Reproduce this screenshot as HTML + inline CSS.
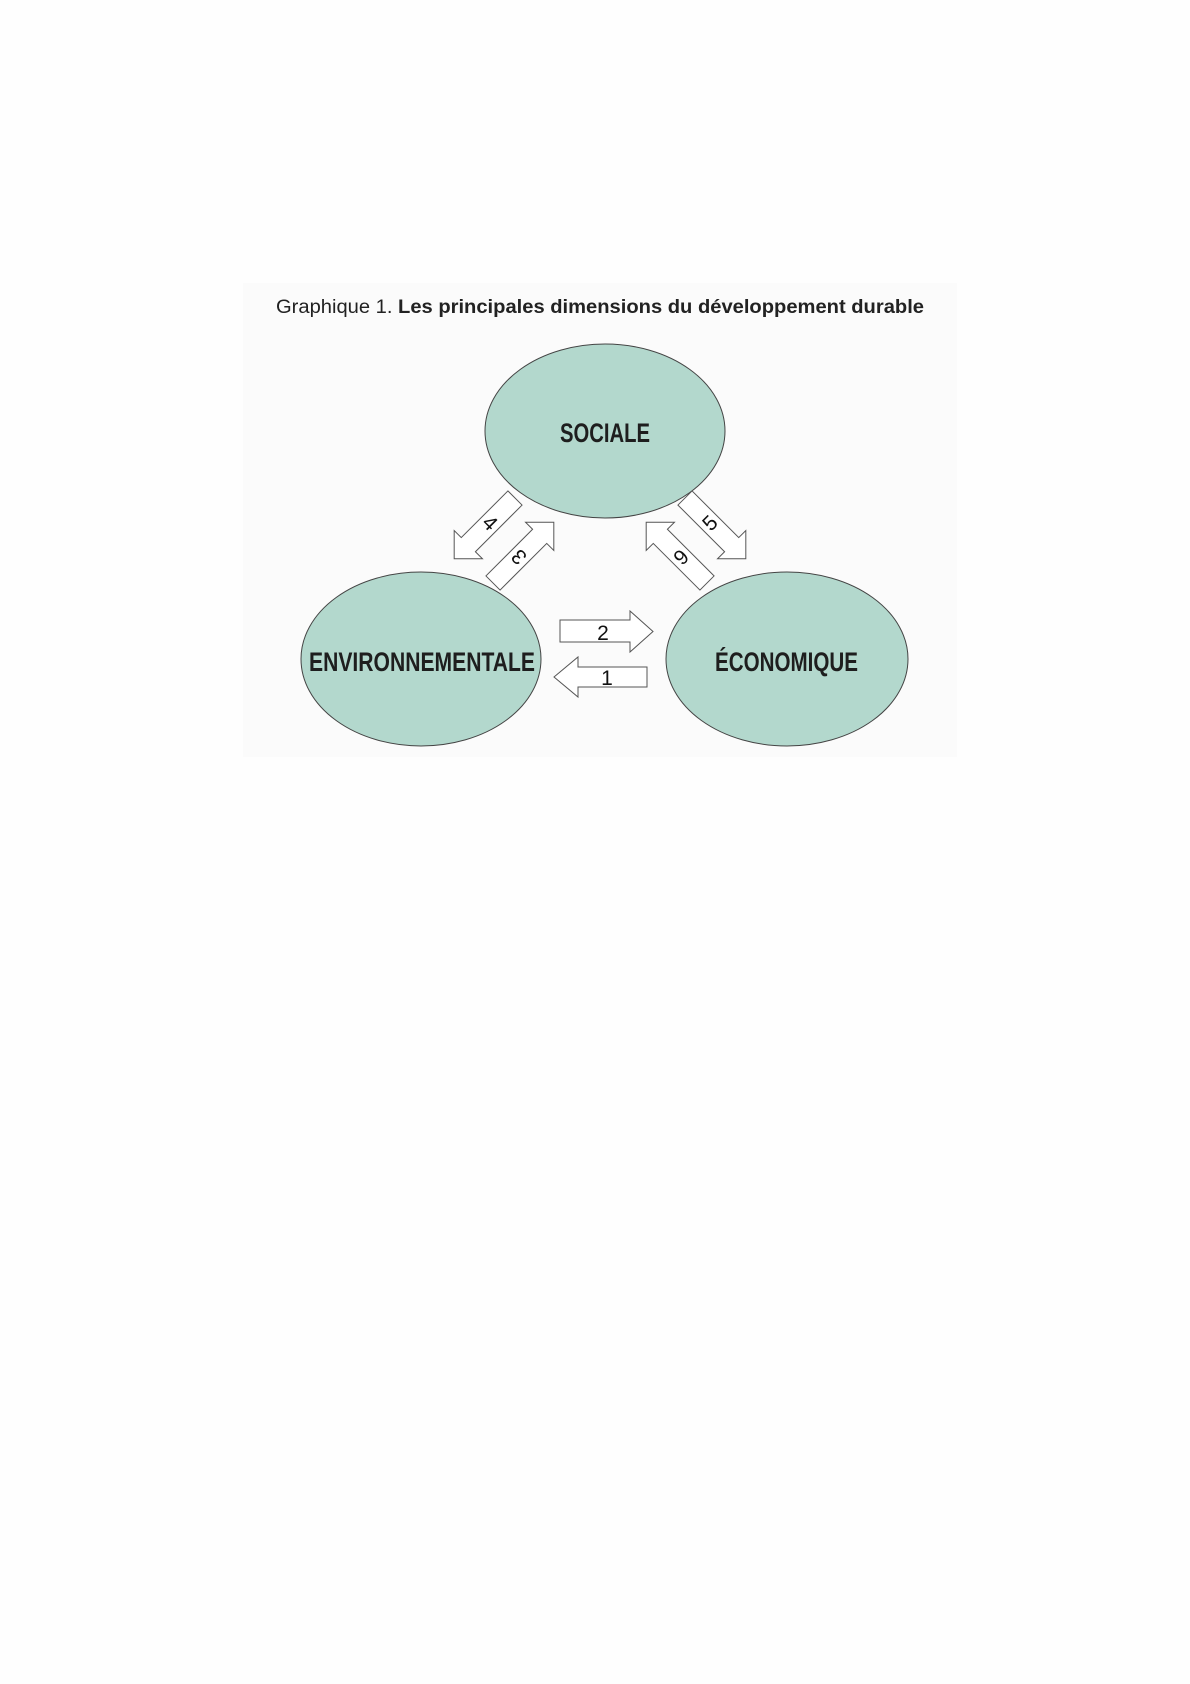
<!DOCTYPE html>
<html><head><meta charset="utf-8"><style>
html,body{margin:0;padding:0;background:#fefefe;}
svg{display:block;}
</style></head><body>
<svg width="1190" height="1684" viewBox="0 0 1190 1684" xmlns="http://www.w3.org/2000/svg">
<rect x="0" y="0" width="1190" height="1684" fill="#fefefe"/>
<rect x="243" y="283" width="714" height="474" fill="#fbfbfb"/>
<text x="276" y="313" font-family="Liberation Sans, sans-serif" font-size="19" fill="#222" textLength="648" lengthAdjust="spacingAndGlyphs">Graphique 1. <tspan font-weight="bold">Les principales dimensions du développement durable</tspan></text>
<g fill="#b3d8cd" stroke="#444" stroke-width="1">
<ellipse cx="605" cy="431" rx="120" ry="87"/>
<ellipse cx="421" cy="659" rx="120" ry="87"/>
<ellipse cx="787" cy="659" rx="121" ry="87"/>
</g>
<g font-family="Liberation Sans, sans-serif" font-weight="bold" font-size="27" fill="#1e1e1e">
<text x="560" y="442" textLength="90" lengthAdjust="spacingAndGlyphs">SOCIALE</text>
<text x="309" y="671" textLength="226" lengthAdjust="spacingAndGlyphs">ENVIRONNEMENTALE</text>
<text x="715" y="671" textLength="143" lengthAdjust="spacingAndGlyphs">ÉCONOMIQUE</text>
</g>
<g fill="#fff" stroke="#555" stroke-width="1">
<polygon points="560,620 630,620 630,611 653,631.5 630,652 630,642 560,642"/>
<polygon points="647,667 578,667 578,657 554,677 578,697 578,687 647,687"/>
</g>
<g fill="#fff" stroke="#555" stroke-width="1">
<polygon transform="translate(515,498) rotate(135)" points="0,-10 66,-10 66,-20 86,0 66,20 66,10 0,10"/>
<polygon transform="translate(493,583) rotate(-45)" points="0,-10 66,-10 66,-20 86,0 66,20 66,10 0,10"/>
<polygon transform="translate(685,498) rotate(45)" points="0,-10 66,-10 66,-20 86,0 66,20 66,10 0,10"/>
<polygon transform="translate(707,583) rotate(-135)" points="0,-10 66,-10 66,-20 86,0 66,20 66,10 0,10"/>
</g>
<g font-family="Liberation Sans, sans-serif" font-size="21" fill="#111" text-anchor="middle">
<text x="603" y="640">2</text>
<text x="607" y="685">1</text>
<text transform="translate(490,523) rotate(45)" x="0" y="7">4</text>
<text transform="translate(519,557) rotate(-135)" x="0" y="7">3</text>
<text transform="translate(710,523) rotate(-45)" x="0" y="7">5</text>
<text transform="translate(681,557) rotate(135)" x="0" y="7">6</text>
</g>
</svg>
</body></html>
